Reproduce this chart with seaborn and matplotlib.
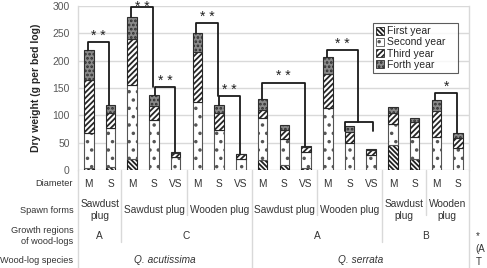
import numpy as np
import pandas as pd
import matplotlib
matplotlib.use("Agg")
import matplotlib.pyplot as plt
import matplotlib.transforms as mtrans
from matplotlib.patches import Patch
import seaborn as sns

# ---------------- data ----------------
bar_ids = [f"b{i}" for i in range(18)]
diameter = ["M", "S", "M", "S", "VS", "M", "S", "VS", "M", "S", "VS", "M", "S", "VS", "M", "S", "M", "S"]
first_year = [3, 5, 21, 0, 0, 0, 0, 0, 19, 9, 4, 0, 0, 0, 46, 21, 0, 0]
second_year = [64, 71, 134, 92, 24, 124, 73, 21, 76, 47, 28, 114, 50, 27, 39, 40, 61, 40]
third_year = [98, 28, 85, 25, 7, 92, 31, 8, 15, 17, 10, 62, 20, 10, 20, 27, 47, 18]
forth_year = [55, 15, 39, 21, 1, 34, 14, 1, 20, 9, 1, 30, 10, 1, 10, 8, 20, 10]
series_names = ["First year", "Second year", "Third year", "Forth year"]

spawn_labels = ["Sawdust\nplug", "Sawdust plug", "Wooden plug", "Sawdust plug", "Wooden plug",
                "Sawdust\nplug", "Wooden\nplug"]
spawn_spans = [(0, 1), (2, 4), (5, 7), (8, 10), (11, 13), (14, 15), (16, 17)]
region_labels = ["A", "C", "A", "B"]
region_spans = [(0, 1), (2, 7), (8, 13), (14, 17)]
species_labels = ["Q. acutissima", "Q. serrata"]
species_spans = [(0, 7), (8, 17)]
row_labels = ["Diameter", "Spawn forms", "Growth regions\nof wood-logs", "Wood-log species"]
sig_labels = ["* *", "* *", "* *", "* *", "* *", "* *", "* *", "*"]
note_fragments = ["*", "(A", "T"]

# ---------------- style ----------------
sns.set_style("white")
plt.rcParams["font.family"] = ["Liberation Sans", "DejaVu Sans"]
plt.rcParams["hatch.linewidth"] = 1.3

fig = plt.figure(figsize=(4.87, 2.68), dpi=100)
ax = fig.add_axes([0.160, 0.3657, 0.803, 0.612])

df = pd.DataFrame({"bar": bar_ids, "First year": first_year, "Second year": second_year,
                   "Third year": third_year, "Forth year": forth_year})

styles = {
    "First year": dict(color="white", hatch="\\\\\\\\\\\\\\", edgecolor="#202020"),
    "Second year": dict(color="white", hatch="..", edgecolor="#555555"),
    "Third year": dict(color="white", hatch="//////", edgecolor="#262626"),
    "Forth year": dict(color="#8a8a8a", hatch="....", edgecolor="#2e2e2e"),
}

bottom = np.zeros(len(bar_ids))
for name in series_names:
    st = styles[name]
    sns.barplot(data=df, x="bar", y=name, order=bar_ids, ax=ax, width=0.44,
                color=st["color"], saturation=1, bottom=bottom.copy(),
                hatch=st["hatch"], edgecolor=st["edgecolor"], linewidth=0.8,
                errorbar=None, zorder=3)
    bottom = bottom + np.array(df[name], dtype=float)

totals = bottom

ax.set_xlim(-0.5, 17.5)
ax.set_ylim(0, 300)
ax.set_yticks(np.arange(0, 301, 50))
ax.tick_params(axis="y", labelsize=7.5, colors="#595959", length=0, pad=6)
ax.set_xticks([])
ax.set_xlabel("")
ax.set_ylabel("Dry weight (g per bed log)", fontsize=7.5, fontweight="bold", labelpad=8)
ax.grid(axis="y", color="#d9d9d9", linewidth=1, zorder=0)
ax.set_axisbelow(True)
for s in ["top", "bottom"]:
    ax.spines[s].set_visible(False)
for s in ["left", "right"]:
    ax.spines[s].set_color("#d9d9d9")
    ax.spines[s].set_linewidth(1)

# ---------------- significance brackets ----------------
lc = "#1a1a1a"
lw = 1.3
def bracket(x1, x2, h, y1, y2, label, ly, va="center"):
    ax.plot([x1, x1, x2, x2], [y1, h, h, y2], color=lc, lw=lw, clip_on=False, zorder=5)
    ax.text((x1 + x2) / 2, ly, label, ha="center", va=va, fontsize=10,
            color="#222222", clip_on=False)

bracket(-0.05, 0.95, 234, totals[0], totals[1], sig_labels[0], 245)
bracket(1.95, 2.95, 298, totals[2], 151, sig_labels[1], 310.5, va="top")
bracket(3.05, 3.95, 151, totals[3], totals[4], sig_labels[2], 163)
bracket(4.95, 5.95, 269.5, totals[5], 135, sig_labels[3], 280)
bracket(6.0, 6.95, 135, totals[6], totals[7], sig_labels[4], 146)
bracket(7.95, 9.95, 160, totals[8], totals[10], sig_labels[5], 172)
bracket(10.95, 12.4, 219.5, totals[11], 88, sig_labels[6], 231)
ax.plot([11.78, 11.78, 13.1, 13.1], [71, 88, 88, 71], color=lc, lw=lw, zorder=5)
bracket(15.95, 16.95, 141, totals[16], totals[17], sig_labels[7], 152)

# ---------------- legend ----------------
handles = [Patch(facecolor=styles[n]["color"], hatch=styles[n]["hatch"],
                 edgecolor=styles[n]["edgecolor"], linewidth=0.6, label=n) for n in series_names]
leg = ax.legend(handles=handles, loc="upper left", bbox_to_anchor=(0.754, 0.896, 0.219, 0.0),
                mode="expand", fontsize=7.5, frameon=True, fancybox=False, borderaxespad=0,
                handlelength=0.8, handleheight=0.8, handletextpad=0.3, labelspacing=0.12,
                borderpad=0.3)
leg.get_frame().set_edgecolor("#333333")
leg.get_frame().set_linewidth(0.8)
leg.set_zorder(6)

# ---------------- category table below the axis ----------------
trans = mtrans.blended_transform_factory(ax.transData, ax.transAxes)
tfs = 7.3
tcol = "#333333"
y_diam, y_spawn, y_region, y_species = -0.085, -0.244, -0.40, -0.549
for i, d in enumerate(diameter):
    ax.text(i, y_diam, d, transform=trans, ha="center", va="center", fontsize=tfs, color=tcol)
for lab, (a, b) in zip(spawn_labels, spawn_spans):
    ax.text((a + b) / 2, y_spawn, lab, transform=trans, ha="center", va="center",
            fontsize=tfs, color=tcol, linespacing=1.3)
for lab, (a, b) in zip(region_labels, region_spans):
    ax.text((a + b) / 2, y_region, lab, transform=trans, ha="center", va="center",
            fontsize=tfs, color=tcol)
for lab, (a, b) in zip(species_labels, species_spans):
    ax.text((a + b) / 2, y_species, lab, transform=trans, ha="center", va="center",
            fontsize=tfs, color=tcol, style="italic")

# separators
sep_full = -0.598
sep_lines = [(-0.5, sep_full), (1.5, -0.437), (4.5, -0.274), (7.5, sep_full),
             (10.5, -0.274), (13.5, -0.437), (15.5, -0.274), (17.5, sep_full)]
for xs, ybot in sep_lines:
    ax.plot([xs, xs], [0, ybot], transform=trans, color="#d9d9d9", lw=1, clip_on=False, zorder=1)

# row labels
row_y = [y_diam, y_spawn, y_region, y_species]
for lab, yy in zip(row_labels, row_y):
    ax.text(-0.72, yy, lab, transform=trans, ha="right", va="center", fontsize=6.6,
            color=tcol, linespacing=1.3)

# right-hand note (cut off at the figure edge as in the reference)
for frag, py in zip(note_fragments, [236, 249, 262]):
    fig.text(0.977, 1 - py / 268, frag, fontsize=7, color=tcol, va="center")

fig.savefig("out.png", dpi=100)
